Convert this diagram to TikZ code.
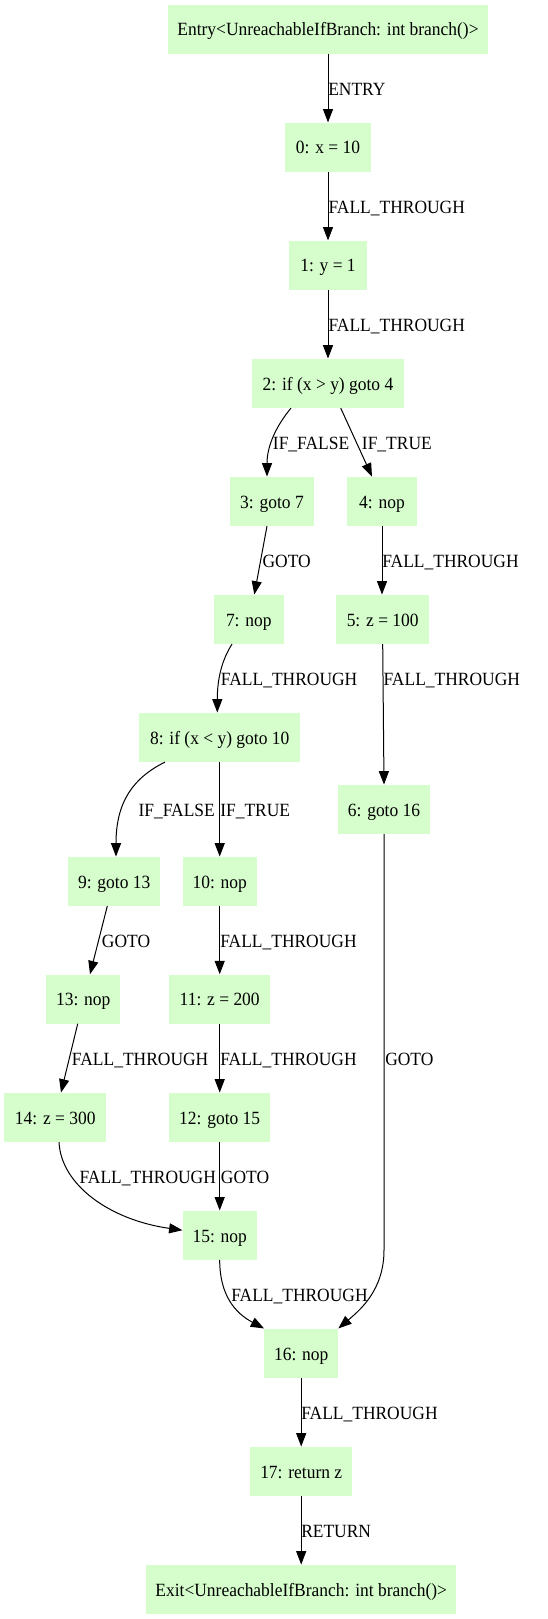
\documentclass[tikz,border=0pt]{standalone}
\usepackage{fontspec}
\setmainfont{Liberation Serif}[FakeStretch=0.935]
\usetikzlibrary{arrows.meta,calc}
\definecolor{nodefill}{RGB}{214,254,204}
\begin{document}
\begin{tikzpicture}[x=0.75pt,y=-0.75pt,
  box/.style={fill=nodefill, minimum height=36.75pt, inner sep=0pt, font=\fontsize{14}{16}\selectfont, text height=10.2pt, text depth=0pt},
  edge/.style={draw=black, line width=0.75pt, -{Triangle[length=10pt,width=7.5pt]}},
  lbl/.style={anchor=base west, inner sep=0pt, font=\fontsize{14}{16}\selectfont}]
\useasboundingbox (0,0) rectangle (547,1619);
% nodes
\node[box, minimum width=240pt] (entry) at (328,29.2) {Entry<UnreachableIfBranch: int branch()>};
\node[box, minimum width=64.3pt] (n0) at (328,147.2) {0: x = 10};
\node[box, minimum width=57.8pt] (n1) at (328,265.2) {1: y = 1};
\node[box, minimum width=114.5pt] (n2) at (328,383.3) {2: if (x > y) goto 4};
\node[box, minimum width=62.5pt] (n3) at (272,501.3) {3: goto 7};
\node[box, minimum width=52.3pt] (n4) at (382,501.3) {4: nop};
\node[box, minimum width=52.3pt] (n7) at (248.8,619.3) {7: nop};
\node[box, minimum width=70pt] (n5) at (382.7,619.3) {5: z = 100};
\node[box, minimum width=120.5pt] (n8) at (219.7,737.3) {8: if (x < y) goto 10};
\node[box, minimum width=69pt] (n6) at (384,809.3) {6: goto 16};
\node[box, minimum width=69.2pt] (n9) at (114.2,881.3) {9: goto 13};
\node[box, minimum width=55.5pt] (n10) at (219.7,881.3) {10: nop};
\node[box, minimum width=55.3pt] (n13) at (83.2,999) {13: nop};
\node[box, minimum width=76pt] (n11) at (219.7,999) {11: z = 200};
\node[box, minimum width=76.3pt] (n14) at (55.2,1117.3) {14: z = 300};
\node[box, minimum width=75.5pt] (n12) at (219.7,1117.3) {12: goto 15};
\node[box, minimum width=55.5pt] (n15) at (219.7,1235.2) {15: nop};
\node[box, minimum width=55.3pt] (n16) at (301.2,1353.2) {16: nop};
\node[box, minimum width=76.3pt] (n17) at (301.2,1471.3) {17: return z};
\node[box, minimum width=232.3pt] (exit) at (301.2,1589.3) {Exit<UnreachableIfBranch: int branch()>};
% edges
\draw[edge] (entry.south) -- (n0.north);
\draw[edge] (n0.south) -- (n1.north);
\draw[edge] (n1.south) -- (n2.north);
\draw[edge] ($(n2.south)+(-37,0)$) .. controls (277,425) and (267,445) .. ($(n3.north)+(-5,0)$);
\draw[edge] ($(n2.south)+(12.7,0)$) -- ($(n4.north)+(-10,0)$);
\draw[edge] ($(n3.south)+(-5,0)$) -- ($(n7.north)+(5.5,0)$);
\draw[edge] (n4.south) -- (n4.south |- n5.north);
\draw[edge] ($(n7.south)+(-16.8,0)$) .. controls (222,660) and (217.3,678) .. ($(n8.north)+(-2.4,0)$);
\draw[edge] (n5.south) -- (n6.north);
\draw[edge] ($(n8.south)+(-54.7,0)$) .. controls (133,778) and (116,802) .. ($(n9.north)+(1.8,0)$);
\draw[edge] (n8.south) -- (n10.north);
\draw[edge] ($(n9.south)+(-6.9,0)$) -- ($(n13.north)+(6.8,0)$);
\draw[edge] (n10.south) -- (n11.north);
\draw[edge] ($(n13.south)+(-5.5,0)$) -- ($(n14.north)+(5.8,0)$);
\draw[edge] (n11.south) -- (n12.north);
\draw[edge] (n6.south) -- ($(n6.south)+(0,416)$) .. controls (384,1290) and (360,1310) .. (n16.north east);
\draw[edge] (n12.south) -- (n15.north);
\draw[edge] ($(n14.south)+(3.8,0)$) .. controls (61,1185) and (110,1220) .. ($(n15.west)+(0,-5)$);
\draw[edge] (n15.south) .. controls (219.7,1295) and (235,1313) .. (n16.north west);
\draw[edge] (n16.south) -- (n17.north);
\draw[edge] (n17.south) -- (exit.north);
% labels
\node[lbl] (le0) at (328,95.6) {ENTRY};
\node[lbl] (le1) at (328.3,213.3) {FALL\_THROUGH};
\node[lbl] (le2) at (328.3,331.7) {FALL\_THROUGH};
\node[lbl] (le3) at (272.7,449.3) {IF\_FALSE};
\node[lbl] (le4) at (361.7,449.3) {IF\_TRUE};
\node[lbl] (le5) at (262.3,567.3) {GOTO};
\node[lbl] (le6) at (382,567.3) {FALL\_THROUGH};
\node[lbl] (le7) at (220.7,685.7) {FALL\_THROUGH};
\node[lbl] (le8) at (383.3,685.7) {FALL\_THROUGH};
\node[lbl] (le9) at (138.3,816.7) {IF\_FALSE};
\node[lbl] (le10) at (220,816.7) {IF\_TRUE};
\node[lbl] (le11) at (101.7,947.3) {GOTO};
\node[lbl] (le12) at (220,947.3) {FALL\_THROUGH};
\node[lbl] (le13) at (71.7,1065.7) {FALL\_THROUGH};
\node[lbl] (le14) at (220,1065.7) {FALL\_THROUGH};
\node[lbl] (le15) at (385,1065.7) {GOTO};
\node[lbl] (le16) at (79.3,1183.3) {FALL\_THROUGH};
\node[lbl] (le17) at (220.7,1183.3) {GOTO};
\node[lbl] (le18) at (231,1301.7) {FALL\_THROUGH};
\node[lbl] (le19) at (301,1419.3) {FALL\_THROUGH};
\node[lbl] (le20) at (301,1537.3) {RETURN};
\end{tikzpicture}
\end{document}
